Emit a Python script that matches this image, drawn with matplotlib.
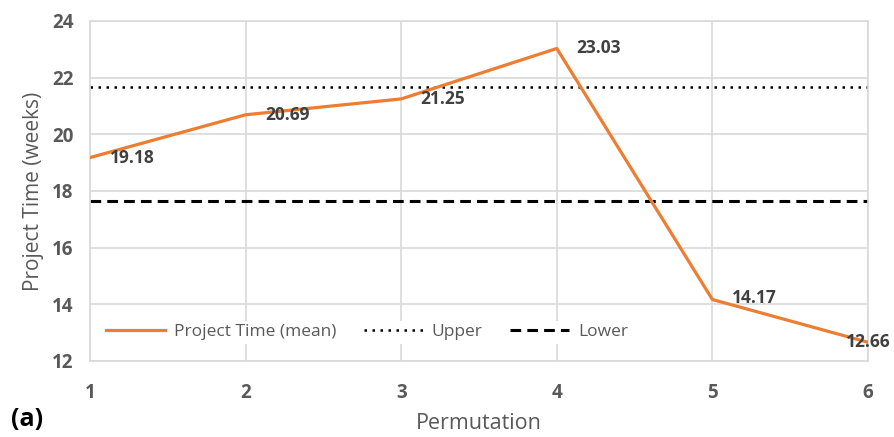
import matplotlib
matplotlib.use('Agg')
import matplotlib.pyplot as plt

# data
perm = [1, 2, 3, 4, 5, 6]
mean_time = [19.18, 20.69, 21.25, 23.03, 14.17, 12.66]
upper = 21.68
lower = 17.65
ylim = (12, 24)
yticks = [12, 14, 16, 18, 20, 22, 24]

ORANGE = "#ED7D31"
GREY = "#595959"
GRID = "#D9D9D9"
plt.rcParams['font.family'] = ['Open Sans', 'DejaVu Sans']

fig = plt.figure(figsize=(8.94, 4.37), dpi=100)
ax = fig.add_axes([90/894, 1-361/437, (868-90)/894, (361-21)/437])

ax.plot(perm, mean_time, color=ORANGE, lw=2.3, label="Project Time (mean)", zorder=3)
ax.axhline(upper, color='black', lw=1.8, ls=(0, (1, 2.2)), label="Upper", zorder=2)
ax.axhline(lower, color='black', lw=2.2, ls=(0, (3.5, 2)), label="Lower", zorder=2)

ax.set_xlim(perm[0], perm[-1])
ax.set_ylim(*ylim)
ax.set_xticks(perm)
ax.set_yticks(yticks)
ax.grid(True, color=GRID, lw=1.2, zorder=0)
for s in ax.spines.values():
    s.set_color(GRID); s.set_linewidth(1.2)
ax.tick_params(length=0, colors=GREY, labelsize=13.5)
ax.tick_params(axis='y', pad=12)
ax.tick_params(axis='x', pad=16)
for t in ax.get_xticklabels() + ax.get_yticklabels():
    t.set_fontweight('bold')

ax.set_xlabel("Permutation", color=GREY, fontsize=15.5, labelpad=7)
ax.set_ylabel("Project Time (weeks)", color=GREY, fontsize=15, labelpad=6)

# data labels
offs = [(14, 0), (14, 0), (14, 0), (14, 0), (14, 1), (0, 0)]
for x, y, (dx, dy) in zip(perm, mean_time, offs):
    ax.annotate(f"{y:.2f}", (x, y), xytext=(dx, dy), textcoords='offset points',
                ha='left' if dx else 'center', va='center', color="#404040",
                fontsize=12.5, fontweight='bold', zorder=4)

leg = ax.legend(loc='center left', ncol=3, frameon=True, fontsize=12.5, bbox_to_anchor=(0.005, 0.085),
                handlelength=3.4, columnspacing=1.6, handletextpad=0.5, borderpad=0.2)
leg.get_frame().set_edgecolor('none')
leg.get_frame().set_facecolor('white')
leg.get_frame().set_alpha(1)
for t in leg.get_texts():
    t.set_color(GREY)

fig.text(11/894, 1-420/437, "(a)", fontsize=18, fontweight='bold', color='black', va='center', ha='left')

fig.savefig("out.png", dpi=100)
